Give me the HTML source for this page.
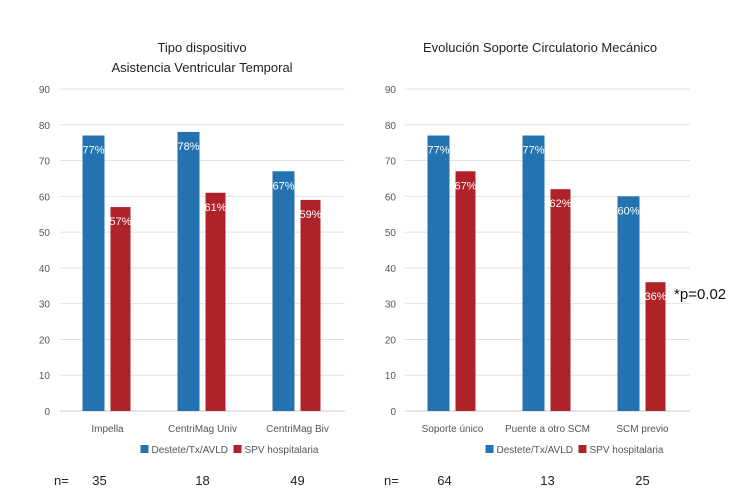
<!DOCTYPE html>
<html><head><meta charset="utf-8"><style>
body{margin:0;background:#fff;}
svg{display:block;font-family:"Liberation Sans",sans-serif;}
</style></head><body>
<svg id="c" width="750" height="500"></svg>
<script>
const categoriesL = ["Impella","CentriMag Univ","CentriMag Biv"];
const seriesBlueL = [77,78,67];
const seriesRedL = [57,61,59];
const nL = ["35","18","49"];
const categoriesR = ["Soporte único","Puente a otro SCM","SCM previo"];
const seriesBlueR = [77,77,60];
const seriesRedR = [67,62,36];
const nR = ["64","13","25"];
const yTicks = [0,10,20,30,40,50,60,70,80,90];
const legendLabels = ["Destete/Tx/AVLD","SPV hospitalaria"];

const NS="http://www.w3.org/2000/svg";
const svg=document.getElementById('c');
function mk(t,a,txt,parent){const e=document.createElementNS(NS,t);for(const k in a)e.setAttribute(k,a[k]);if(txt!==undefined)e.textContent=txt;(parent||svg).appendChild(e);return e;}
const BLUE="#2472b0",RED="#b0222a";
const y0=411, yTop=89;
function ys(v){return y0-(v/90)*(y0-yTop);}

function chart(name,x0,x1,labX,titles,titleCx,cats,blue,red,ns,nLabelX){
  const g=mk('g',{});
  
  
  titles.forEach((t,i)=>{const e=mk('text',{x:titleCx,y:titles.length==2?52+i*20:52,'text-anchor':'middle','font-size':13,fill:'#222'},t,g);
    });
  yTicks.forEach(v=>{
    const l=mk('line',{x1:x0,x2:x1,y1:ys(v),y2:ys(v),stroke:v==0?'#c8c8c8':'#e2e2e2','stroke-width':1},undefined,g);
    
    const t=mk('text',{x:labX,y:ys(v)+4,'text-anchor':'end','font-size':10,fill:'#555'},String(v),g);
    
  });
  const step=(x1-x0)/cats.length;
  cats.forEach((c,i)=>{
    const cx=x0+step*(i+0.5);
    const bw=22;
    const bx=cx-bw-3, rx=cx+3;
    const b=mk('rect',{x:bx,y:ys(blue[i]),width:bw,height:y0-ys(blue[i]),fill:BLUE},undefined,g);
    
    const r=mk('rect',{x:rx,y:ys(red[i]),width:bw-2,height:y0-ys(red[i]),fill:RED},undefined,g);
    
    const bl=mk('text',{x:bx+bw/2,y:ys(blue[i])+18,'text-anchor':'middle','font-size':11,fill:'#fff'},blue[i]+'%',g);
    
    const rl=mk('text',{x:rx+(bw-2)/2,y:ys(red[i])+18,'text-anchor':'middle','font-size':11,fill:'#fff'},red[i]+'%',g);
    
    const cl=mk('text',{x:cx,y:432,'text-anchor':'middle','font-size':10,fill:'#555'},c,g);
    
    const nt=mk('text',{x:cx-(i==0?8:0),y:485,'text-anchor':'middle','font-size':13,fill:'#222'},ns[i],g);
    
  });
  const nl=mk('text',{x:nLabelX,y:485,'font-size':13,fill:'#222'},'n=',g);
  
  const lx=(x0+x1)/2-62;
  const lg=mk('g',{},undefined,g);
  
  mk('rect',{x:lx,y:445,width:8,height:8,fill:BLUE},undefined,lg);
  mk('text',{x:lx+11,y:453,'font-size':10,fill:'#555'},legendLabels[0],lg);
  mk('rect',{x:lx+93,y:445,width:8,height:8,fill:RED},undefined,lg);
  mk('text',{x:lx+104,y:453,'font-size':10,fill:'#555'},legendLabels[1],lg);
}
chart('left-chart',60,345,50,["Tipo dispositivo","Asistencia Ventricular Temporal"],202,categoriesL,seriesBlueL,seriesRedL,nL,54);
chart('right-chart',405,690,396,["Evolución Soporte Circulatorio Mecánico"],540,categoriesR,seriesBlueR,seriesRedR,nR,384);
const p=mk('text',{x:674,y:299,'font-size':15,fill:'#111'},'*p=0.02');


</script>
</body></html>
